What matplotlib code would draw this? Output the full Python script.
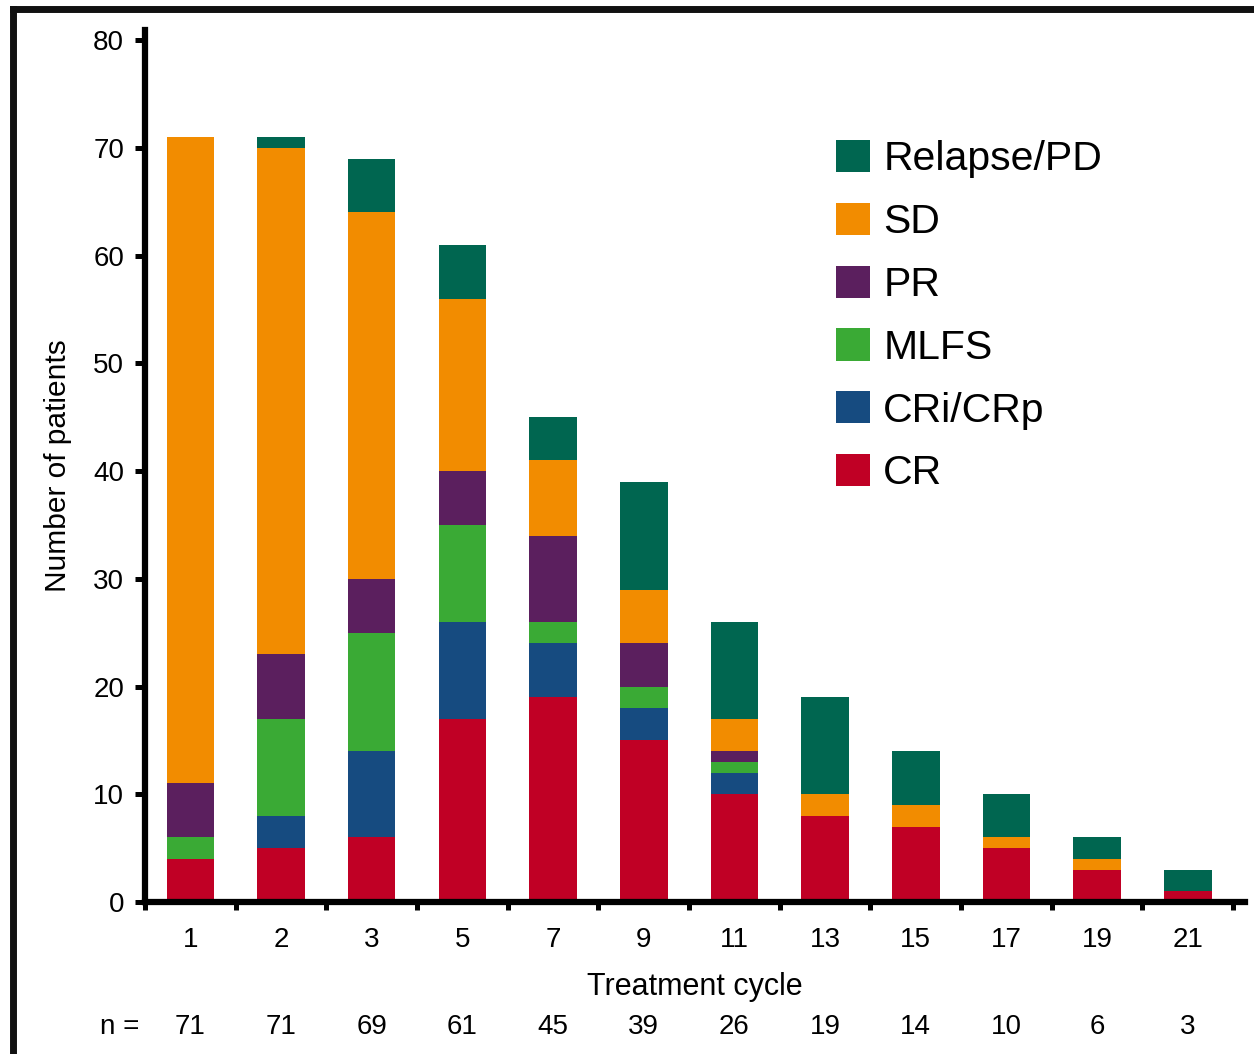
import matplotlib
matplotlib.use("Agg")
import matplotlib.pyplot as plt
from matplotlib.lines import Line2D
from matplotlib.patches import Patch
import numpy as np

plt.rcParams['font.family'] = ['Liberation Sans', 'DejaVu Sans']

# treatment cycles shown on the x axis and patients still on study
cycles = ["1", "2", "3", "5", "7", "9", "11", "13", "15", "17", "19", "21"]
n_patients = [71, 71, 69, 61, 45, 39, 26, 19, 14, 10, 6, 3]

# response counts per cycle (stacked bottom to top)
cr = [4, 5, 6, 17, 19, 15, 10, 8, 7, 5, 3, 1]
cri_crp = [0, 3, 8, 9, 5, 3, 2, 0, 0, 0, 0, 0]
mlfs = [2, 9, 11, 9, 2, 2, 1, 0, 0, 0, 0, 0]
pr = [5, 6, 5, 5, 8, 4, 1, 0, 0, 0, 0, 0]
sd = [60, 47, 34, 16, 7, 5, 3, 2, 2, 1, 1, 0]
relapse_pd = [0, 1, 5, 5, 4, 10, 9, 9, 5, 4, 2, 2]

series = [
    ("CR", cr, "#C00025"),
    ("CRi/CRp", cri_crp, "#164B80"),
    ("MLFS", mlfs, "#3AAA35"),
    ("PR", pr, "#5B1F5E"),
    ("SD", sd, "#F28C00"),
    ("Relapse/PD", relapse_pd, "#006650"),
]

fig = plt.figure(figsize=(12.54, 10.54), dpi=100)
ax = fig.add_axes([0.1156, 0.1442, 0.8772, 0.8273])

x = np.arange(len(cycles))
bottom = np.zeros(len(cycles))
handles = []
for name, vals, col in series:
    vals = np.array(vals, dtype=float)
    ax.bar(x, vals, width=0.525, bottom=bottom, color=col, edgecolor='none')
    bottom += vals
    handles.append(Patch(facecolor=col, label=name))

ax.set_xlim(-0.5, 11.63)
ax.set_ylim(0, 80.93)

# spines: only left and bottom, heavy black
for side in ['top', 'right']:
    ax.spines[side].set_visible(False)
for side in ['left', 'bottom']:
    ax.spines[side].set_linewidth(4.5)
    ax.spines[side].set_color('black')
ax.spines['left'].set_bounds(0, 80.93)

ax.set_yticks(np.arange(0, 81, 10))
ax.tick_params(axis='y', direction='out', length=7, width=3.6, labelsize=20, pad=8)

# category labels in the middle, tick marks at the boundaries
ax.set_xticks(x)
ax.set_xticklabels(cycles)
ax.tick_params(axis='x', which='major', length=0, labelsize=20, pad=18)
ax.set_xticks(np.arange(-0.5, 12, 1), minor=True)
ax.tick_params(axis='x', which='minor', direction='out', length=6, width=3.6)

ax.set_xlabel("Treatment cycle", fontsize=22, labelpad=14)
ax.set_ylabel("Number of patients", fontsize=21.5)
ax.yaxis.set_label_coords(-0.066, 0.5)

# n = row under the axis
tr = ax.get_xaxis_transform()
ax.text(-0.776, -0.1433, "n =", transform=tr, ha='center', va='center', fontsize=20)
for xi, n in zip(x, n_patients):
    ax.text(xi, -0.1433, str(n), transform=tr, ha='center', va='center', fontsize=20)

ax.legend(handles=handles[::-1], loc='upper left', bbox_to_anchor=(0.628, 0.874),
          frameon=False, fontsize=29.5, handlelength=0.83, handleheight=0.83,
          handletextpad=0.33, labelspacing=0.6, borderpad=0, borderaxespad=0)

# frame lines on the left and top of the figure
fig.add_artist(Line2D([0.0104, 0.0104], [0, 0.9919], transform=fig.transFigure,
                      color='#111111', linewidth=5, solid_capstyle='projecting'))
fig.add_artist(Line2D([0.0104, 1.0], [0.9919, 0.9919], transform=fig.transFigure,
                      color='#111111', linewidth=5, solid_capstyle='projecting'))

fig.savefig("out.png", dpi=100)
